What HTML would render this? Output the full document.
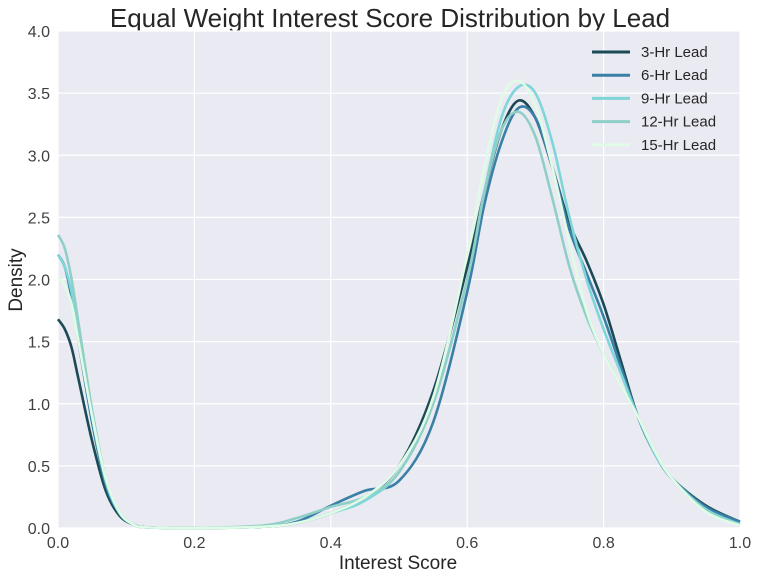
<!DOCTYPE html>
<html><head><meta charset="utf-8"><style>
body{margin:0;background:#fff;}
svg{display:block;font-family:"Liberation Sans",sans-serif;}
</style></head><body>
<svg id="chart" width="757" height="576">
<text x="390" y="27" text-anchor="middle" font-size="26" fill="#262626">Equal Weight Interest Score Distribution by Lead</text>
<rect x="58" y="31" width="682" height="497" fill="#eaeaf2"/>
<g id="grid"></g><g id="series"></g><g id="legend"></g>
<text x="398" y="569" text-anchor="middle" font-size="19" fill="#262626">Interest Score</text>
<text transform="translate(22,280) rotate(-90)" text-anchor="middle" font-size="19" fill="#262626">Density</text>
</svg>
<script>
const xs=[0,0.01,0.02,0.03,0.05,0.07,0.09,0.11,0.13,0.2,0.3,0.35,0.4,0.45,0.5,0.55,0.6,0.625,0.65,0.675,0.7,0.725,0.75,0.775,0.8,0.825,0.85,0.875,0.9,0.95,1.0];
const seriesNames=["3-Hr Lead","6-Hr Lead","9-Hr Lead","12-Hr Lead","15-Hr Lead"];
const lead3=[1.68,1.6,1.45,1.2,0.7,0.3,0.1,0.03,0.005,0,0.01,0.04,0.12,0.25,0.5,1.1,2.1,2.7,3.2,3.44,3.3,2.9,2.45,2.15,1.8,1.35,0.9,0.6,0.4,0.18,0.05];
const lead6=[2.2,2.1,1.85,1.5,0.85,0.35,0.12,0.03,0.005,0,0.01,0.05,0.18,0.3,0.38,0.85,1.9,2.6,3.1,3.38,3.3,2.9,2.4,2.05,1.7,1.3,0.9,0.6,0.4,0.17,0.05];
const lead9=[2.2,2.1,1.9,1.6,0.9,0.38,0.12,0.03,0.005,0,0.01,0.04,0.12,0.22,0.45,1.0,2.0,2.7,3.3,3.55,3.5,3.1,2.5,2.0,1.6,1.25,0.9,0.6,0.4,0.15,0.03];
const lead12=[2.36,2.25,2.0,1.65,0.95,0.4,0.13,0.03,0.005,0,0.02,0.08,0.17,0.25,0.45,1.0,2.0,2.7,3.2,3.35,3.15,2.65,2.1,1.7,1.4,1.15,0.9,0.62,0.4,0.14,0.02];
const lead15=[2.02,1.95,1.8,1.5,0.9,0.4,0.13,0.03,0.005,0,0.01,0.04,0.12,0.25,0.5,1.05,2.2,2.9,3.45,3.6,3.4,2.9,2.3,1.75,1.4,1.15,0.9,0.62,0.4,0.13,0.02];
const xTicks=[0,0.2,0.4,0.6,0.8,1.0];
const yTicks=[0,0.5,1,1.5,2,2.5,3,3.5,4];
const colors=["#1b4a55","#3a7fa5","#7fd6d8","#8fcfc8","#e0fbe6"];
const allSeries=[lead3,lead6,lead9,lead12,lead15];
const NS="http://www.w3.org/2000/svg";
const X=v=>58+v*682, Y=v=>528-v*(497/4);
function mk(tag,attrs,parent){const e=document.createElementNS(NS,tag);for(const k in attrs)e.setAttribute(k,attrs[k]);parent.appendChild(e);return e;}
const grid=document.getElementById('grid');
xTicks.forEach(t=>{
 const l=mk('line',{x1:X(t),x2:X(t),y1:31,y2:528,stroke:'#fff','stroke-width':1.2},grid);
 
 
 const tx=mk('text',{x:X(t),y:548,'text-anchor':'middle','font-size':16,fill:'#404040'},grid);
 tx.textContent=t.toFixed(1);
 
 
});
yTicks.forEach(t=>{
 const l=mk('line',{x1:58,x2:740,y1:Y(t),y2:Y(t),stroke:'#fff','stroke-width':1.2},grid);
 
 
 const tx=mk('text',{x:50,y:Y(t)+6,'text-anchor':'end','font-size':16,fill:'#404040'},grid);
 tx.textContent=t.toFixed(1);
 
 
});
function pathD(ys){
 const p=xs.map((x,i)=>[X(x),Y(ys[i])]);
 let d='M'+p[0][0]+','+p[0][1];
 for(let i=0;i<p.length-1;i++){
  const p0=p[Math.max(i-1,0)],p1=p[i],p2=p[i+1],p3=p[Math.min(i+2,p.length-1)];
  const c1=[p1[0]+(p2[0]-p0[0])/6,p1[1]+(p2[1]-p0[1])/6];
  const c2=[p2[0]-(p3[0]-p1[0])/6,p2[1]-(p3[1]-p1[1])/6];
  c1[1]=Math.min(c1[1],528);c2[1]=Math.min(c2[1],528);
  d+=' C'+c1[0]+','+c1[1]+' '+c2[0]+','+c2[1]+' '+p2[0]+','+p2[1];
 }
 return d;
}
const sg=document.getElementById('series');
const lg=document.getElementById('legend');
allSeries.forEach((ys,i)=>{
 const p=mk('path',{d:pathD(ys),fill:'none',stroke:colors[i],'stroke-width':2.6},sg);
 
 
 const y=52+i*23.2;
 const l=mk('line',{x1:592,x2:630,y1:y,y2:y,stroke:colors[i],'stroke-width':3},lg);
 
 
 const t=mk('text',{x:641,y:y+5,'font-size':15,fill:'#262626'},lg);
 t.textContent=seriesNames[i];
 
 
});
</script>
</body></html>
